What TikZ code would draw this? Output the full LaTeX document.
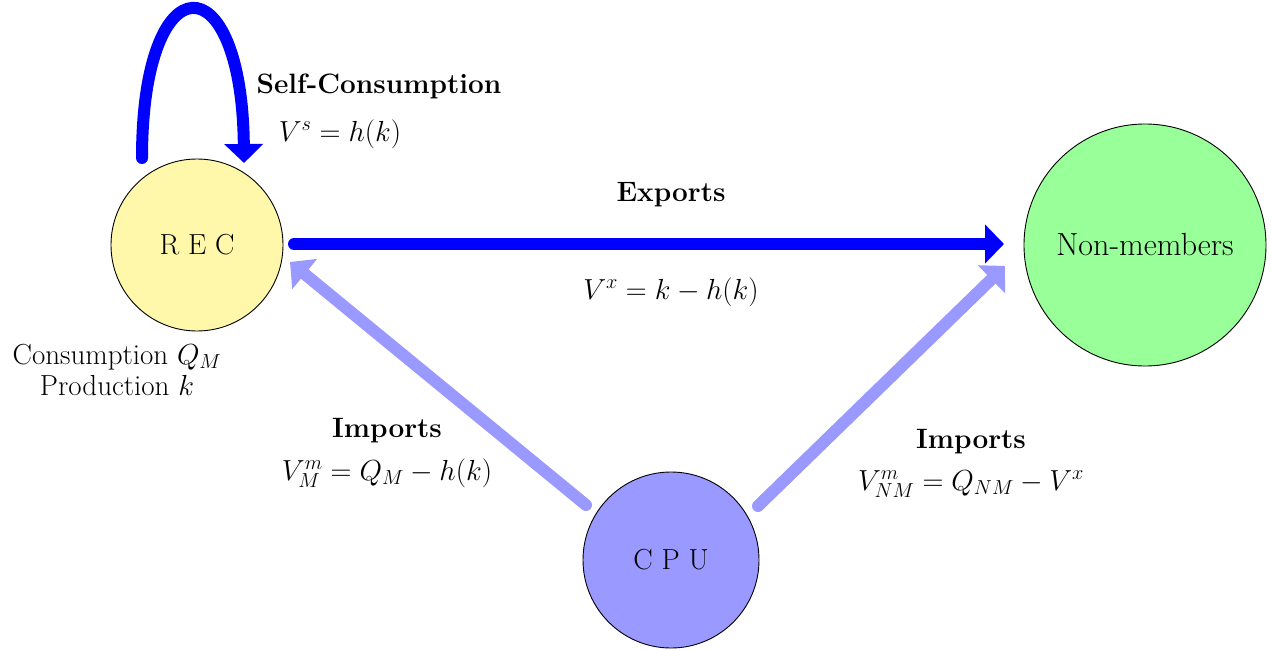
\RequirePackage{fix-cm}
\documentclass[tikz,border=0pt]{standalone}
\usetikzlibrary{arrows.meta}
\definecolor{recfill}{RGB}{255,247,170}
\definecolor{nmfill}{RGB}{153,255,153}
\definecolor{cpufill}{RGB}{153,153,255}
\definecolor{strongblue}{RGB}{0,0,255}
\tikzset{
  agent/.style={circle, draw=black, line width=0.9pt, inner sep=0pt, font=\fontsize{29}{34}\selectfont},
  flow/.style={line width=12pt, line cap=round, -{Triangle[width=38pt,length=19pt]}},
  strongflow/.style={flow, draw=strongblue},
  lightflow/.style={flow, draw=cpufill},
  lbl/.style={font=\fontsize{29}{34}\selectfont, inner sep=0pt},
  blbl/.style={font=\fontsize{28}{33}\selectfont\bfseries, inner sep=0pt},
}
\begin{document}
\begin{tikzpicture}[x=1pt,y=-1pt]
\useasboundingbox (0,0) rectangle (1271,650);
\node[agent, fill=recfill, minimum size=172pt] (REC) at (197,245) {R E C};
\node[agent, fill=nmfill, minimum size=242pt, font=\fontsize{32}{38}\selectfont] (NM) at (1145,245) {Non-members};
\node[agent, fill=cpufill, minimum size=176pt] (CPU) at (671,560) {C P U};

\coordinate (ls) at (142,158);
\coordinate (lt) at (244,163);
\draw[strongflow] (ls) .. controls (142,-40) and (242,-40) .. (lt);

\coordinate (xs) at (294,244);
\coordinate (xt) at (1004,244);
\draw[strongflow] (xs) -- (xt);

\coordinate (i1s) at (586,505);
\coordinate (i1t) at (290,262);
\draw[lightflow] (i1s) -- (i1t);

\coordinate (i2s) at (758,506);
\coordinate (i2t) at (1005,266);
\draw[lightflow] (i2s) -- (i2t);

\node[blbl] (sct) at (379,86) {Self-Consumption};
\node[lbl] (scf) at (340,134) {$V^s = h(k)$};
\node[blbl] (ext) at (671,195) {Exports};
\node[lbl] (exf) at (671,292) {$V^x = k - h(k)$};
\node[lbl, align=center] (recl) at (117,370) {Consumption $Q_M$\\[-3pt]Production $k$};
\node[blbl] (im1t) at (387,431) {Imports};
\node[lbl] (im1f) at (387,473) {$V^m_M = Q_M - h(k)$};
\node[blbl] (im2t) at (971,442) {Imports};
\node[lbl] (im2f) at (971,484) {$V^m_{NM} = Q_{NM} - V^x$};
\end{tikzpicture}
\end{document}
